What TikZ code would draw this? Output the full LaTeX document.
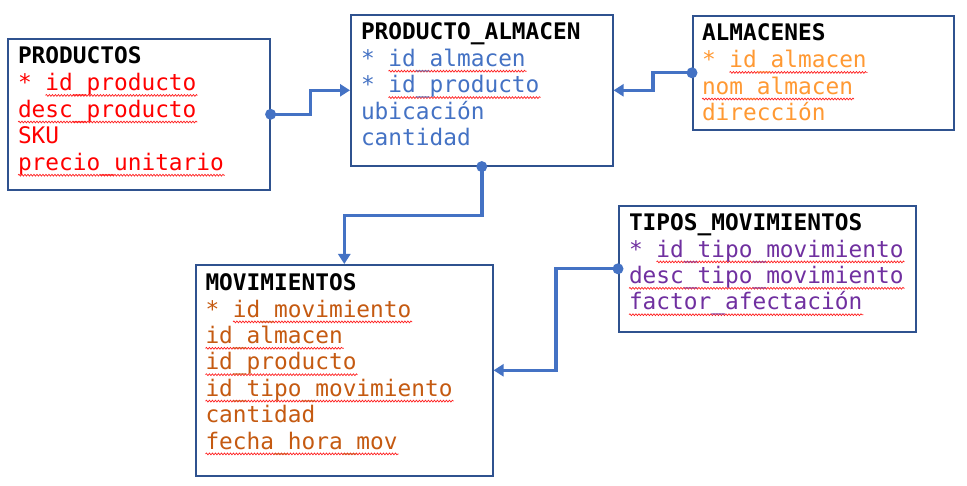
\documentclass[tikz,border=0pt]{standalone}
\usepackage{fontspec}
\newfontfamily\monofnt{DejaVu Sans Mono}
\usetikzlibrary{arrows.meta,calc,decorations.pathmorphing}
\pgfdeclarelayer{squiglayer}
\pgfdeclarelayer{boxlayer}
\pgfsetlayers{boxlayer,squiglayer,main}
\definecolor{boxline}{HTML}{2F528F}
\definecolor{conncol}{HTML}{4472C4}
\definecolor{cred}{HTML}{FF0000}
\definecolor{cblue}{HTML}{4472C4}
\definecolor{corange}{HTML}{FF9933}
\definecolor{cbrown}{HTML}{C55A11}
\definecolor{cpurple}{HTML}{7030A0}
\definecolor{squigcol}{HTML}{FF2020}
\tikzset{
  ebox/.style={draw=boxline, line width=1.6pt, fill=white, rectangle, inner sep=0pt, anchor=north west},
  fld/.style={inner sep=0pt, outer sep=0pt, anchor=base west, font=\monofnt\fontsize{22.8}{26}\selectfont},
  ttl/.style={fld, font=\monofnt\bfseries\fontsize{22.8}{26}\selectfont, text=black},
  conn/.style={draw=conncol, line width=3.4pt, -{Triangle[length=10pt,width=12pt]}},
  dotc/.style={fill=conncol},
  squig/.style={draw=squigcol, line width=0.7pt, decorate, decoration={snake, amplitude=0.9pt, segment length=3pt}}
}
\newcommand\sqline[2]{\begin{pgfonlayer}{squiglayer}\draw[squig] ([xshift=#2, yshift=-4.8pt]#1.base west) -- ([xshift=1pt, yshift=-4.8pt]#1.base east);\end{pgfonlayer}}
\begin{document}
\begin{tikzpicture}[x=1pt,y=-1pt]
\begin{pgfonlayer}{boxlayer}
\useasboundingbox[fill=white] (0,0) rectangle (967,486);
% boxes
\node[ebox, minimum width=262pt, minimum height=151pt] (productos) at (7,38) {};
\node[ebox, minimum width=262pt, minimum height=151pt] (pa) at (350,14) {};
\node[ebox, minimum width=261pt, minimum height=114pt] (alm) at (692,15) {};
\node[ebox, minimum width=297pt, minimum height=211pt] (mov) at (195,264) {};
\node[ebox, minimum width=297pt, minimum height=126pt] (tipos) at (618,205) {};
\end{pgfonlayer}
% PRODUCTOS
\node[ttl] (p0) at (18,64) {PRODUCTOS};
\node[fld, text=cred] (p1) at (18,90.6) {* id\_producto};
\node[fld, text=cred] (p2) at (18,117.2) {desc\_producto};
\node[fld, text=cred] (p3) at (18,143.8) {SKU};
\node[fld, text=cred] (p4) at (18,170.4) {precio\_unitario};
\sqline{p1}{27.5pt}
\sqline{p2}{0pt}
\sqline{p4}{0pt}
% PRODUCTO_ALMACEN
\node[ttl] (a0) at (361,40) {PRODUCTO\_ALMACEN};
\node[fld, text=cblue] (a1) at (361,66.4) {* id\_almacen};
\node[fld, text=cblue] (a2) at (361,92.8) {* id\_producto};
\node[fld, text=cblue] (a3) at (361,119.2) {ubicación};
\node[fld, text=cblue] (a4) at (361,145.6) {cantidad};
\sqline{a1}{27.5pt}
\sqline{a2}{27.5pt}
% ALMACENES
\node[ttl] (l0) at (702,41) {ALMACENES};
\node[fld, text=corange] (l1) at (702,67.6) {* id\_almacen};
\node[fld, text=corange] (l2) at (702,94.2) {nom\_almacen};
\node[fld, text=corange] (l3) at (702,120.8) {dirección};
\sqline{l1}{27.5pt}
\sqline{l2}{0pt}
% MOVIMIENTOS
\node[ttl] (m0) at (205.5,290.5) {MOVIMIENTOS};
\node[fld, text=cbrown] (m1) at (205.5,317.1) {* id\_movimiento};
\node[fld, text=cbrown] (m2) at (205.5,343.5) {id\_almacen};
\node[fld, text=cbrown] (m3) at (205.5,369.9) {id\_producto};
\node[fld, text=cbrown] (m4) at (205.5,396.3) {id\_tipo\_movimiento};
\node[fld, text=cbrown] (m5) at (205.5,422.7) {cantidad};
\node[fld, text=cbrown] (m6) at (205.5,449.1) {fecha\_hora\_mov};
\sqline{m1}{27.5pt}
\sqline{m2}{0pt}
\sqline{m3}{0pt}
\sqline{m4}{0pt}
\sqline{m6}{0pt}
% TIPOS_MOVIMIENTOS
\node[ttl] (t0) at (629,230.5) {TIPOS\_MOVIMIENTOS};
\node[fld, text=cpurple] (t1) at (629,257.1) {* id\_tipo\_movimiento};
\node[fld, text=cpurple] (t2) at (629,283.5) {desc\_tipo\_movimiento};
\node[fld, text=cpurple] (t3) at (629,309.9) {factor\_afectación};
\sqline{t1}{27.5pt}
\sqline{t2}{0pt}
\sqline{t3}{0pt}
% connectors
\draw[conn] (productos.east) -| ($(productos.east)!.5!(pa.west)$) |- (pa.west);
\fill[dotc] (productos.east) circle (5.5pt);
\draw[conn] (alm.west) -| ($(alm.west)!.5!(pa.east)$) |- (pa.east);
\fill[dotc] (alm.west) circle (5.5pt);
\draw[conn] (pa.south) |- ($(pa.south)!.5!(mov.north)$) -| (mov.north);
\fill[dotc] (pa.south) circle (5.5pt);
\draw[conn] (tipos.west) -| ($(tipos.west)!.5!(mov.east)$) |- (mov.east);
\fill[dotc] (tipos.west) circle (5.5pt);
\end{tikzpicture}
\end{document}
